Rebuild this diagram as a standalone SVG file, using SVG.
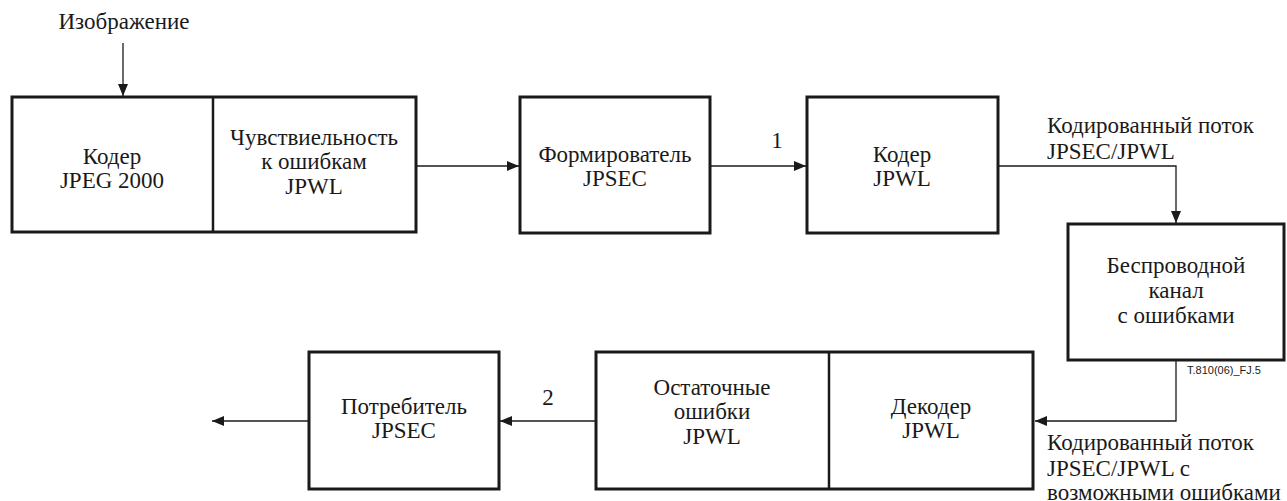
<svg xmlns="http://www.w3.org/2000/svg" width="1287" height="501" viewBox="0 0 1287 501" font-family="Liberation Serif">
  <style>
    .box { fill: #ffffff; stroke: #1a1a1a; stroke-width: 3; }
    .div { stroke: #1a1a1a; stroke-width: 2.5; }
    .wire { fill: none; stroke: #1a1a1a; stroke-width: 1.3; }
    .t { font-size: 23px; fill: #1a1a1a; }
    .c { text-anchor: middle; }
    .ref { font-size: 11px; fill: #1a1a1a; }
  </style>
  <defs>
    <marker id="arrow" viewBox="0 0 12 10" refX="12" refY="5" markerWidth="12" markerHeight="10" markerUnits="userSpaceOnUse" orient="auto">
      <path d="M0,0 L12,5 L0,10 z" fill="#1a1a1a"/>
    </marker>
  </defs>

  <rect width="1287" height="501" fill="#ffffff"/>

  <!-- connectors and their labels -->
  <g id="connectors">
    <line class="wire" x1="123" y1="43" x2="123" y2="96" marker-end="url(#arrow)"/>
    <line class="wire" x1="416" y1="166" x2="519" y2="166" marker-end="url(#arrow)"/>
    <line class="wire" x1="710" y1="166" x2="806" y2="166" marker-end="url(#arrow)"/>
    <polyline class="wire" points="998,166 1176,166 1176,223" marker-end="url(#arrow)"/>
    <polyline class="wire" points="1176,359 1176,421 1035,421" marker-end="url(#arrow)"/>
    <line class="wire" x1="596" y1="421" x2="500" y2="421" marker-end="url(#arrow)"/>
    <line class="wire" x1="309" y1="421" x2="212" y2="421" marker-end="url(#arrow)"/>
    <text class="t c" x="777" y="148">1</text>
    <text class="t c" x="548" y="405">2</text>
    <text class="t c" x="124" y="29">Изображение</text>
    <text class="t" x="1047" y="133">Кодированный поток</text>
    <text class="t" x="1047" y="159">JPSEC/JPWL</text>
    <text class="t" x="1047" y="450">Кодированный поток</text>
    <text class="t" x="1047" y="476">JPSEC/JPWL с</text>
    <text class="t" x="1047" y="500">возможными ошибками</text>
  </g>

  <!-- JPEG 2000 encoder with JPWL error sensitivity -->
  <g id="encoder">
    <rect class="box" x="12" y="97" width="404" height="135"/>
    <line class="div" x1="213" y1="97" x2="213" y2="232"/>
    <text class="t c" x="112" y="164">Кодер</text>
    <text class="t c" x="112" y="188">JPEG 2000</text>
    <text class="t c" x="314" y="145">Чувствиельность</text>
    <text class="t c" x="314" y="169">к ошибкам</text>
    <text class="t c" x="314" y="194">JPWL</text>
  </g>

  <g id="jpsec-former">
    <rect class="box" x="520" y="97" width="190" height="136"/>
    <text class="t c" x="615" y="162">Формирователь</text>
    <text class="t c" x="615" y="186">JPSEC</text>
  </g>

  <g id="jpwl-encoder">
    <rect class="box" x="807" y="97" width="191" height="136"/>
    <text class="t c" x="902" y="162">Кодер</text>
    <text class="t c" x="902" y="186">JPWL</text>
  </g>

  <g id="channel">
    <rect class="box" x="1068" y="224" width="216" height="136"/>
    <text class="t c" x="1176" y="273">Беспроводной</text>
    <text class="t c" x="1176" y="298">канал</text>
    <text class="t c" x="1176" y="323">с ошибками</text>
    <text class="ref" x="1187" y="374" font-family="Liberation Sans">T.810(06)_FJ.5</text>
  </g>

  <g id="jpwl-decoder">
    <rect class="box" x="596" y="352" width="437" height="137"/>
    <line class="div" x1="829" y1="352" x2="829" y2="489"/>
    <text class="t c" x="712" y="395">Остаточные</text>
    <text class="t c" x="712" y="419">ошибки</text>
    <text class="t c" x="712" y="444">JPWL</text>
    <text class="t c" x="931" y="414">Декодер</text>
    <text class="t c" x="931" y="438">JPWL</text>
  </g>

  <g id="jpsec-consumer">
    <rect class="box" x="309" y="352" width="190" height="137"/>
    <text class="t c" x="404" y="414">Потребитель</text>
    <text class="t c" x="404" y="438">JPSEC</text>
  </g>
</svg>
